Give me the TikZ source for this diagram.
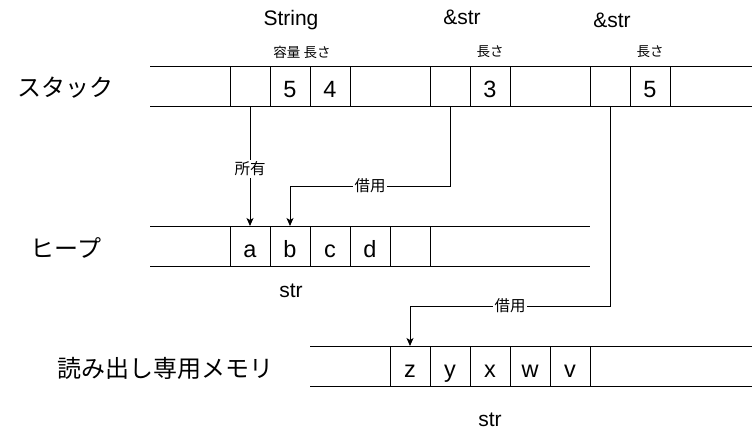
\documentclass[tikz,border=0pt]{standalone}
\usepackage{fontspec}
\setmainfont{Liberation Sans}
\newfontfamily\jpfont{Noto Sans CJK JP}
\usetikzlibrary{arrows.meta,positioning}

\begin{document}
\begin{tikzpicture}[
  x=1pt, y=-1pt,
  node distance=0pt,
  line width=1pt,
  cell/.style={draw, minimum width=40pt, minimum height=40pt, inner sep=0pt,
    outer sep=0pt, text height=22pt, text depth=0pt,
    font=\fontsize{23.5}{25}\selectfont},
  rowname/.style={font=\jpfont\fontsize{24}{27}\selectfont},
  typename/.style={anchor=base, inner sep=0pt, font=\fontsize{21}{24}\selectfont},
  field/.style={font=\jpfont\fontsize{13.5}{15}\selectfont},
  lbl/.style={fill=white, inner sep=1.5pt, font=\jpfont\fontsize{15.5}{17}\selectfont},
  arr/.style={-{Stealth[length=8pt, width=7pt, inset=2pt]}}
]
\useasboundingbox (0,0) rectangle (752,429);

% stack
\draw (150,66) -- (752,66) (150,106) -- (752,106);
\node[rowname] (stacklbl) at (65,88) {スタック};
\node[cell] (s1) at (250,86) {};
\node[cell, right=of s1] (s2) {5};
\node[cell, right=of s2] (s3) {4};
\node[cell] (s4) at (450,86) {};
\node[cell, right=of s4] (s5) {3};
\node[cell] (s6) at (610,86) {};
\node[cell, right=of s6] (s7) {5};
\node[typename] (tstring) at (291,25) {String};
\node[typename] (tref1) at (462,24) {\&str};
\node[typename] (tref2) at (612,27) {\&str};
\node[field] (fcap) at (302,52) {容量 長さ};
\node[field] (flen1) at (490,52) {長さ};
\node[field] (flen2) at (650,52) {長さ};

% heap
\draw (150,226) -- (590,226) (150,266) -- (590,266);
\node[rowname] (heaplbl) at (66,248) {ヒープ};
\node[cell] (h1) at (250,246) {a};
\node[cell, right=of h1] (h2) {b};
\node[cell, right=of h2] (h3) {c};
\node[cell, right=of h3] (h4) {d};
\node[cell, right=of h4] (h5) {};
\node[typename] (theap) at (291,297) {str};

% read-only memory
\draw (310,346) -- (752,346) (310,386) -- (752,386);
\node[rowname] (romlbl) at (165,368) {読み出し専用メモリ};
\node[cell] (r1) at (410,366) {z};
\node[cell, right=of r1] (r2) {y};
\node[cell, right=of r2] (r3) {x};
\node[cell, right=of r3] (r4) {w};
\node[cell, right=of r4] (r5) {v};
\node[typename] (trom) at (490,426) {str};

\draw[arr] (s1.south) -- node[lbl, pos=0.525] {所有} (h1.north);
\draw[arr] (s4.south) -- ++(0,80) -| node[lbl, pos=0.25] {借用} (h2.north);
\draw[arr] (s6.south) -- ++(0,200) -| node[lbl, pos=0.25] {借用} (r1.north);
\end{tikzpicture}
\end{document}
